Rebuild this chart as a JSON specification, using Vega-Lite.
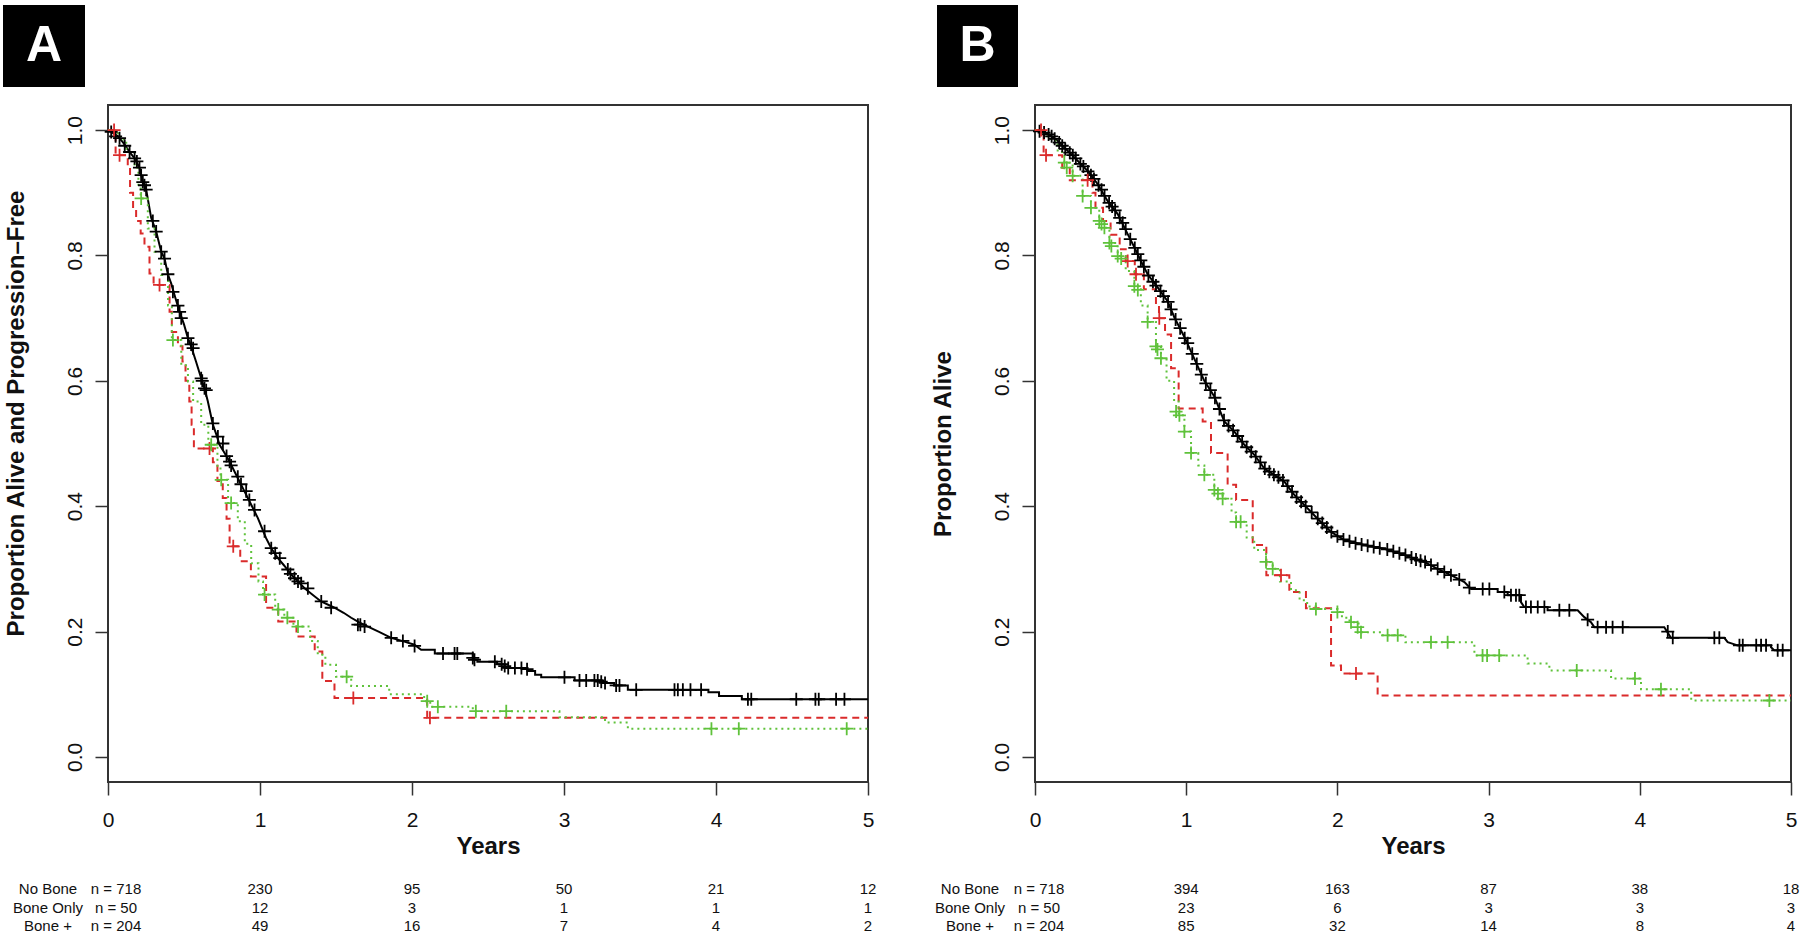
{
"$schema": "https://vega.github.io/schema/vega-lite/v6.json",
"padding": {"left": 2, "top": 4, "right": 0, "bottom": 0},
"bounds": "flush",
"spacing": 167,
"background": "white",
"config": {
  "font": "Liberation Sans",
  "view": {"stroke": "#333333", "strokeWidth": 2},
  "axis": {"grid": false, "domain": false, "tickColor": "#333333", "tickWidth": 1.5, "tickSize": 13, "labelColor": "#111111", "titleColor": "#111111"}
},
"datasets": {
"curves": [
{"panel":"A","group":"No Bone","t":0,"s":1},{"panel":"A","group":"No Bone","t":0.021,"s":0.997},{"panel":"A","group":"No Bone","t":0.065,"s":0.99},{"panel":"A","group":"No Bone","t":0.1,"s":0.98},{"panel":"A","group":"No Bone","t":0.142,"s":0.965},{"panel":"A","group":"No Bone","t":0.175,"s":0.955},{"panel":"A","group":"No Bone","t":0.207,"s":0.94},{"panel":"A","group":"No Bone","t":0.229,"s":0.918},{"panel":"A","group":"No Bone","t":0.251,"s":0.905},{"panel":"A","group":"No Bone","t":0.284,"s":0.86},{"panel":"A","group":"No Bone","t":0.317,"s":0.838},{"panel":"A","group":"No Bone","t":0.35,"s":0.806},{"panel":"A","group":"No Bone","t":0.372,"s":0.795},{"panel":"A","group":"No Bone","t":0.394,"s":0.77},{"panel":"A","group":"No Bone","t":0.416,"s":0.755},{"panel":"A","group":"No Bone","t":0.44,"s":0.735},{"panel":"A","group":"No Bone","t":0.471,"s":0.71},{"panel":"A","group":"No Bone","t":0.5,"s":0.69},{"panel":"A","group":"No Bone","t":0.526,"s":0.668},{"panel":"A","group":"No Bone","t":0.547,"s":0.655},{"panel":"A","group":"No Bone","t":0.58,"s":0.63},{"panel":"A","group":"No Bone","t":0.613,"s":0.604},{"panel":"A","group":"No Bone","t":0.635,"s":0.588},{"panel":"A","group":"No Bone","t":0.657,"s":0.567},{"panel":"A","group":"No Bone","t":0.69,"s":0.53},{"panel":"A","group":"No Bone","t":0.712,"s":0.515},{"panel":"A","group":"No Bone","t":0.734,"s":0.498},{"panel":"A","group":"No Bone","t":0.767,"s":0.485},{"panel":"A","group":"No Bone","t":0.8,"s":0.471},{"panel":"A","group":"No Bone","t":0.833,"s":0.455},{"panel":"A","group":"No Bone","t":0.866,"s":0.439},{"panel":"A","group":"No Bone","t":0.893,"s":0.426},{"panel":"A","group":"No Bone","t":0.92,"s":0.413},{"panel":"A","group":"No Bone","t":0.953,"s":0.397},{"panel":"A","group":"No Bone","t":0.986,"s":0.381},{"panel":"A","group":"No Bone","t":1.013,"s":0.365},{"panel":"A","group":"No Bone","t":1.04,"s":0.349},{"panel":"A","group":"No Bone","t":1.074,"s":0.333},{"panel":"A","group":"No Bone","t":1.118,"s":0.317},{"panel":"A","group":"No Bone","t":1.16,"s":0.305},{"panel":"A","group":"No Bone","t":1.205,"s":0.291},{"panel":"A","group":"No Bone","t":1.25,"s":0.28},{"panel":"A","group":"No Bone","t":1.293,"s":0.269},{"panel":"A","group":"No Bone","t":1.35,"s":0.258},{"panel":"A","group":"No Bone","t":1.402,"s":0.248},{"panel":"A","group":"No Bone","t":1.49,"s":0.238},{"panel":"A","group":"No Bone","t":1.55,"s":0.23},{"panel":"A","group":"No Bone","t":1.6,"s":0.222},{"panel":"A","group":"No Bone","t":1.65,"s":0.215},{"panel":"A","group":"No Bone","t":1.71,"s":0.208},{"panel":"A","group":"No Bone","t":1.78,"s":0.2},{"panel":"A","group":"No Bone","t":1.863,"s":0.19},{"panel":"A","group":"No Bone","t":1.95,"s":0.184},{"panel":"A","group":"No Bone","t":2.016,"s":0.179},{"panel":"A","group":"No Bone","t":2.06,"s":0.171},{"panel":"A","group":"No Bone","t":2.15,"s":0.171},{"panel":"A","group":"No Bone","t":2.15,"s":0.165},{"panel":"A","group":"No Bone","t":2.4,"s":0.165},{"panel":"A","group":"No Bone","t":2.4,"s":0.155},{"panel":"A","group":"No Bone","t":2.43,"s":0.155},{"panel":"A","group":"No Bone","t":2.43,"s":0.152},{"panel":"A","group":"No Bone","t":2.56,"s":0.152},{"panel":"A","group":"No Bone","t":2.56,"s":0.148},{"panel":"A","group":"No Bone","t":2.61,"s":0.148},{"panel":"A","group":"No Bone","t":2.61,"s":0.142},{"panel":"A","group":"No Bone","t":2.76,"s":0.142},{"panel":"A","group":"No Bone","t":2.76,"s":0.137},{"panel":"A","group":"No Bone","t":2.81,"s":0.137},{"panel":"A","group":"No Bone","t":2.81,"s":0.131},{"panel":"A","group":"No Bone","t":2.85,"s":0.131},{"panel":"A","group":"No Bone","t":2.85,"s":0.127},{"panel":"A","group":"No Bone","t":3.07,"s":0.127},{"panel":"A","group":"No Bone","t":3.07,"s":0.122},{"panel":"A","group":"No Bone","t":3.25,"s":0.122},{"panel":"A","group":"No Bone","t":3.25,"s":0.118},{"panel":"A","group":"No Bone","t":3.33,"s":0.118},{"panel":"A","group":"No Bone","t":3.33,"s":0.114},{"panel":"A","group":"No Bone","t":3.42,"s":0.114},{"panel":"A","group":"No Bone","t":3.42,"s":0.107},{"panel":"A","group":"No Bone","t":3.95,"s":0.107},{"panel":"A","group":"No Bone","t":3.95,"s":0.103},{"panel":"A","group":"No Bone","t":4.02,"s":0.103},{"panel":"A","group":"No Bone","t":4.02,"s":0.097},{"panel":"A","group":"No Bone","t":4.17,"s":0.097},{"panel":"A","group":"No Bone","t":4.17,"s":0.092},{"panel":"A","group":"No Bone","t":5,"s":0.092},
{"panel":"A","group":"Bone Only","t":0,"s":1},{"panel":"A","group":"Bone Only","t":0.05,"s":0.96},{"panel":"A","group":"Bone Only","t":0.13,"s":0.94},{"panel":"A","group":"Bone Only","t":0.145,"s":0.9},{"panel":"A","group":"Bone Only","t":0.165,"s":0.875},{"panel":"A","group":"Bone Only","t":0.185,"s":0.855},{"panel":"A","group":"Bone Only","t":0.215,"s":0.835},{"panel":"A","group":"Bone Only","t":0.24,"s":0.814},{"panel":"A","group":"Bone Only","t":0.273,"s":0.771},{"panel":"A","group":"Bone Only","t":0.3,"s":0.753},{"panel":"A","group":"Bone Only","t":0.405,"s":0.71},{"panel":"A","group":"Bone Only","t":0.42,"s":0.678},{"panel":"A","group":"Bone Only","t":0.46,"s":0.655},{"panel":"A","group":"Bone Only","t":0.49,"s":0.631},{"panel":"A","group":"Bone Only","t":0.51,"s":0.6},{"panel":"A","group":"Bone Only","t":0.535,"s":0.567},{"panel":"A","group":"Bone Only","t":0.55,"s":0.53},{"panel":"A","group":"Bone Only","t":0.565,"s":0.492},{"panel":"A","group":"Bone Only","t":0.69,"s":0.47},{"panel":"A","group":"Bone Only","t":0.72,"s":0.44},{"panel":"A","group":"Bone Only","t":0.755,"s":0.413},{"panel":"A","group":"Bone Only","t":0.78,"s":0.38},{"panel":"A","group":"Bone Only","t":0.8,"s":0.336},{"panel":"A","group":"Bone Only","t":0.87,"s":0.312},{"panel":"A","group":"Bone Only","t":0.94,"s":0.288},{"panel":"A","group":"Bone Only","t":1.04,"s":0.238},{"panel":"A","group":"Bone Only","t":1.12,"s":0.216},{"panel":"A","group":"Bone Only","t":1.24,"s":0.192},{"panel":"A","group":"Bone Only","t":1.36,"s":0.168},{"panel":"A","group":"Bone Only","t":1.41,"s":0.121},{"panel":"A","group":"Bone Only","t":1.49,"s":0.094},{"panel":"A","group":"Bone Only","t":2.1,"s":0.0624},{"panel":"A","group":"Bone Only","t":5,"s":0.0624},
{"panel":"A","group":"Bone +","t":0,"s":1},{"panel":"A","group":"Bone +","t":0.04,"s":0.995},{"panel":"A","group":"Bone +","t":0.08,"s":0.985},{"panel":"A","group":"Bone +","t":0.12,"s":0.965},{"panel":"A","group":"Bone +","t":0.175,"s":0.94},{"panel":"A","group":"Bone +","t":0.2,"s":0.91},{"panel":"A","group":"Bone +","t":0.215,"s":0.891},{"panel":"A","group":"Bone +","t":0.262,"s":0.843},{"panel":"A","group":"Bone +","t":0.306,"s":0.806},{"panel":"A","group":"Bone +","t":0.35,"s":0.769},{"panel":"A","group":"Bone +","t":0.395,"s":0.72},{"panel":"A","group":"Bone +","t":0.42,"s":0.665},{"panel":"A","group":"Bone +","t":0.482,"s":0.625},{"panel":"A","group":"Bone +","t":0.526,"s":0.599},{"panel":"A","group":"Bone +","t":0.56,"s":0.567},{"panel":"A","group":"Bone +","t":0.613,"s":0.53},{"panel":"A","group":"Bone +","t":0.66,"s":0.498},{"panel":"A","group":"Bone +","t":0.72,"s":0.46},{"panel":"A","group":"Bone +","t":0.74,"s":0.442},{"panel":"A","group":"Bone +","t":0.79,"s":0.405},{"panel":"A","group":"Bone +","t":0.854,"s":0.376},{"panel":"A","group":"Bone +","t":0.9,"s":0.34},{"panel":"A","group":"Bone +","t":0.942,"s":0.309},{"panel":"A","group":"Bone +","t":0.99,"s":0.28},{"panel":"A","group":"Bone +","t":1.02,"s":0.259},{"panel":"A","group":"Bone +","t":1.1,"s":0.235},{"panel":"A","group":"Bone +","t":1.16,"s":0.222},{"panel":"A","group":"Bone +","t":1.22,"s":0.208},{"panel":"A","group":"Bone +","t":1.33,"s":0.185},{"panel":"A","group":"Bone +","t":1.38,"s":0.163},{"panel":"A","group":"Bone +","t":1.43,"s":0.147},{"panel":"A","group":"Bone +","t":1.5,"s":0.128},{"panel":"A","group":"Bone +","t":1.6,"s":0.113},{"panel":"A","group":"Bone +","t":1.85,"s":0.1},{"panel":"A","group":"Bone +","t":2.08,"s":0.089},{"panel":"A","group":"Bone +","t":2.12,"s":0.08},{"panel":"A","group":"Bone +","t":2.4,"s":0.073},{"panel":"A","group":"Bone +","t":2.97,"s":0.0634},{"panel":"A","group":"Bone +","t":3.27,"s":0.055},{"panel":"A","group":"Bone +","t":3.42,"s":0.045},{"panel":"A","group":"Bone +","t":5,"s":0.045},
{"panel":"B","group":"No Bone","t":0,"s":1},{"panel":"B","group":"No Bone","t":0.03,"s":0.998},{"panel":"B","group":"No Bone","t":0.084,"s":0.994},{"panel":"B","group":"No Bone","t":0.15,"s":0.983},{"panel":"B","group":"No Bone","t":0.216,"s":0.967},{"panel":"B","group":"No Bone","t":0.282,"s":0.951},{"panel":"B","group":"No Bone","t":0.348,"s":0.935},{"panel":"B","group":"No Bone","t":0.414,"s":0.914},{"panel":"B","group":"No Bone","t":0.48,"s":0.887},{"panel":"B","group":"No Bone","t":0.547,"s":0.866},{"panel":"B","group":"No Bone","t":0.613,"s":0.834},{"panel":"B","group":"No Bone","t":0.657,"s":0.813},{"panel":"B","group":"No Bone","t":0.701,"s":0.791},{"panel":"B","group":"No Bone","t":0.745,"s":0.77},{"panel":"B","group":"No Bone","t":0.811,"s":0.749},{"panel":"B","group":"No Bone","t":0.877,"s":0.727},{"panel":"B","group":"No Bone","t":0.922,"s":0.701},{"panel":"B","group":"No Bone","t":0.988,"s":0.67},{"panel":"B","group":"No Bone","t":1.054,"s":0.635},{"panel":"B","group":"No Bone","t":1.12,"s":0.6},{"panel":"B","group":"No Bone","t":1.186,"s":0.575},{"panel":"B","group":"No Bone","t":1.252,"s":0.535},{"panel":"B","group":"No Bone","t":1.318,"s":0.519},{"panel":"B","group":"No Bone","t":1.385,"s":0.498},{"panel":"B","group":"No Bone","t":1.451,"s":0.482},{"panel":"B","group":"No Bone","t":1.517,"s":0.46},{"panel":"B","group":"No Bone","t":1.582,"s":0.45},{"panel":"B","group":"No Bone","t":1.649,"s":0.439},{"panel":"B","group":"No Bone","t":1.715,"s":0.418},{"panel":"B","group":"No Bone","t":1.781,"s":0.402},{"panel":"B","group":"No Bone","t":1.869,"s":0.38},{"panel":"B","group":"No Bone","t":1.958,"s":0.359},{"panel":"B","group":"No Bone","t":2.046,"s":0.346},{"panel":"B","group":"No Bone","t":2.178,"s":0.338},{"panel":"B","group":"No Bone","t":2.31,"s":0.332},{"panel":"B","group":"No Bone","t":2.443,"s":0.322},{"panel":"B","group":"No Bone","t":2.575,"s":0.311},{"panel":"B","group":"No Bone","t":2.663,"s":0.3},{"panel":"B","group":"No Bone","t":2.751,"s":0.29},{"panel":"B","group":"No Bone","t":2.84,"s":0.279},{"panel":"B","group":"No Bone","t":2.884,"s":0.268},{"panel":"B","group":"No Bone","t":3.06,"s":0.268},{"panel":"B","group":"No Bone","t":3.06,"s":0.263},{"panel":"B","group":"No Bone","t":3.126,"s":0.263},{"panel":"B","group":"No Bone","t":3.126,"s":0.258},{"panel":"B","group":"No Bone","t":3.214,"s":0.258},{"panel":"B","group":"No Bone","t":3.214,"s":0.247},{"panel":"B","group":"No Bone","t":3.236,"s":0.239},{"panel":"B","group":"No Bone","t":3.39,"s":0.239},{"panel":"B","group":"No Bone","t":3.39,"s":0.234},{"panel":"B","group":"No Bone","t":3.589,"s":0.234},{"panel":"B","group":"No Bone","t":3.633,"s":0.223},{"panel":"B","group":"No Bone","t":3.677,"s":0.215},{"panel":"B","group":"No Bone","t":3.699,"s":0.207},{"panel":"B","group":"No Bone","t":4.162,"s":0.207},{"panel":"B","group":"No Bone","t":4.206,"s":0.19},{"panel":"B","group":"No Bone","t":4.559,"s":0.19},{"panel":"B","group":"No Bone","t":4.581,"s":0.183},{"panel":"B","group":"No Bone","t":4.647,"s":0.178},{"panel":"B","group":"No Bone","t":4.868,"s":0.178},{"panel":"B","group":"No Bone","t":4.868,"s":0.175},{"panel":"B","group":"No Bone","t":4.89,"s":0.17},{"panel":"B","group":"No Bone","t":5,"s":0.17},
{"panel":"B","group":"Bone Only","t":0,"s":1},{"panel":"B","group":"Bone Only","t":0.057,"s":0.96},{"panel":"B","group":"Bone Only","t":0.18,"s":0.94},{"panel":"B","group":"Bone Only","t":0.23,"s":0.92},{"panel":"B","group":"Bone Only","t":0.38,"s":0.9},{"panel":"B","group":"Bone Only","t":0.4,"s":0.876},{"panel":"B","group":"Bone Only","t":0.45,"s":0.855},{"panel":"B","group":"Bone Only","t":0.5,"s":0.833},{"panel":"B","group":"Bone Only","t":0.56,"s":0.81},{"panel":"B","group":"Bone Only","t":0.6,"s":0.791},{"panel":"B","group":"Bone Only","t":0.66,"s":0.77},{"panel":"B","group":"Bone Only","t":0.72,"s":0.746},{"panel":"B","group":"Bone Only","t":0.8,"s":0.722},{"panel":"B","group":"Bone Only","t":0.82,"s":0.7},{"panel":"B","group":"Bone Only","t":0.86,"s":0.674},{"panel":"B","group":"Bone Only","t":0.9,"s":0.62},{"panel":"B","group":"Bone Only","t":0.95,"s":0.556},{"panel":"B","group":"Bone Only","t":1.109,"s":0.535},{"panel":"B","group":"Bone Only","t":1.164,"s":0.485},{"panel":"B","group":"Bone Only","t":1.274,"s":0.434},{"panel":"B","group":"Bone Only","t":1.33,"s":0.41},{"panel":"B","group":"Bone Only","t":1.44,"s":0.338},{"panel":"B","group":"Bone Only","t":1.53,"s":0.29},{"panel":"B","group":"Bone Only","t":1.682,"s":0.263},{"panel":"B","group":"Bone Only","t":1.792,"s":0.237},{"panel":"B","group":"Bone Only","t":1.958,"s":0.146},{"panel":"B","group":"Bone Only","t":2.024,"s":0.133},{"panel":"B","group":"Bone Only","t":2.266,"s":0.098},{"panel":"B","group":"Bone Only","t":5,"s":0.098},
{"panel":"B","group":"Bone +","t":0,"s":1},{"panel":"B","group":"Bone +","t":0.06,"s":0.99},{"panel":"B","group":"Bone +","t":0.106,"s":0.983},{"panel":"B","group":"Bone +","t":0.15,"s":0.965},{"panel":"B","group":"Bone +","t":0.194,"s":0.948},{"panel":"B","group":"Bone +","t":0.249,"s":0.927},{"panel":"B","group":"Bone +","t":0.315,"s":0.895},{"panel":"B","group":"Bone +","t":0.37,"s":0.876},{"panel":"B","group":"Bone +","t":0.425,"s":0.855},{"panel":"B","group":"Bone +","t":0.459,"s":0.844},{"panel":"B","group":"Bone +","t":0.492,"s":0.82},{"panel":"B","group":"Bone +","t":0.547,"s":0.799},{"panel":"B","group":"Bone +","t":0.6,"s":0.775},{"panel":"B","group":"Bone +","t":0.657,"s":0.751},{"panel":"B","group":"Bone +","t":0.7,"s":0.72},{"panel":"B","group":"Bone +","t":0.745,"s":0.694},{"panel":"B","group":"Bone +","t":0.8,"s":0.655},{"panel":"B","group":"Bone +","t":0.833,"s":0.636},{"panel":"B","group":"Bone +","t":0.87,"s":0.6},{"panel":"B","group":"Bone +","t":0.92,"s":0.567},{"panel":"B","group":"Bone +","t":0.95,"s":0.545},{"panel":"B","group":"Bone +","t":0.988,"s":0.519},{"panel":"B","group":"Bone +","t":1.032,"s":0.485},{"panel":"B","group":"Bone +","t":1.08,"s":0.465},{"panel":"B","group":"Bone +","t":1.12,"s":0.45},{"panel":"B","group":"Bone +","t":1.186,"s":0.426},{"panel":"B","group":"Bone +","t":1.241,"s":0.412},{"panel":"B","group":"Bone +","t":1.3,"s":0.39},{"panel":"B","group":"Bone +","t":1.33,"s":0.375},{"panel":"B","group":"Bone +","t":1.4,"s":0.35},{"panel":"B","group":"Bone +","t":1.45,"s":0.33},{"panel":"B","group":"Bone +","t":1.528,"s":0.311},{"panel":"B","group":"Bone +","t":1.572,"s":0.3},{"panel":"B","group":"Bone +","t":1.62,"s":0.28},{"panel":"B","group":"Bone +","t":1.693,"s":0.266},{"panel":"B","group":"Bone +","t":1.75,"s":0.25},{"panel":"B","group":"Bone +","t":1.8,"s":0.24},{"panel":"B","group":"Bone +","t":1.858,"s":0.236},{"panel":"B","group":"Bone +","t":2.0,"s":0.231},{"panel":"B","group":"Bone +","t":2.03,"s":0.222},{"panel":"B","group":"Bone +","t":2.08,"s":0.215},{"panel":"B","group":"Bone +","t":2.14,"s":0.207},{"panel":"B","group":"Bone +","t":2.156,"s":0.199},{"panel":"B","group":"Bone +","t":2.3,"s":0.194},{"panel":"B","group":"Bone +","t":2.45,"s":0.183},{"panel":"B","group":"Bone +","t":2.906,"s":0.162},{"panel":"B","group":"Bone +","t":3.258,"s":0.149},{"panel":"B","group":"Bone +","t":3.402,"s":0.138},{"panel":"B","group":"Bone +","t":3.81,"s":0.125},{"panel":"B","group":"Bone +","t":4.008,"s":0.108},{"panel":"B","group":"Bone +","t":4.34,"s":0.09},{"panel":"B","group":"Bone +","t":5,"s":0.09}
],
"censor": [
{"panel":"A","group":"No Bone","t":0.021,"s":0.997},{"panel":"A","group":"No Bone","t":0.05,"s":0.99},{"panel":"A","group":"No Bone","t":0.076,"s":0.987},{"panel":"A","group":"No Bone","t":0.11,"s":0.975},{"panel":"A","group":"No Bone","t":0.142,"s":0.965},{"panel":"A","group":"No Bone","t":0.175,"s":0.955},{"panel":"A","group":"No Bone","t":0.19,"s":0.95},{"panel":"A","group":"No Bone","t":0.207,"s":0.94},{"panel":"A","group":"No Bone","t":0.218,"s":0.928},{"panel":"A","group":"No Bone","t":0.229,"s":0.917},{"panel":"A","group":"No Bone","t":0.24,"s":0.912},{"panel":"A","group":"No Bone","t":0.251,"s":0.905},{"panel":"A","group":"No Bone","t":0.295,"s":0.855},{"panel":"A","group":"No Bone","t":0.317,"s":0.838},{"panel":"A","group":"No Bone","t":0.35,"s":0.806},{"panel":"A","group":"No Bone","t":0.372,"s":0.795},{"panel":"A","group":"No Bone","t":0.394,"s":0.77},{"panel":"A","group":"No Bone","t":0.427,"s":0.742},{"panel":"A","group":"No Bone","t":0.46,"s":0.72},{"panel":"A","group":"No Bone","t":0.471,"s":0.71},{"panel":"A","group":"No Bone","t":0.482,"s":0.7},{"panel":"A","group":"No Bone","t":0.526,"s":0.668},{"panel":"A","group":"No Bone","t":0.547,"s":0.658},{"panel":"A","group":"No Bone","t":0.56,"s":0.652},{"panel":"A","group":"No Bone","t":0.613,"s":0.604},{"panel":"A","group":"No Bone","t":0.62,"s":0.6},{"panel":"A","group":"No Bone","t":0.635,"s":0.588},{"panel":"A","group":"No Bone","t":0.646,"s":0.585},{"panel":"A","group":"No Bone","t":0.69,"s":0.532},{"panel":"A","group":"No Bone","t":0.723,"s":0.511},{"panel":"A","group":"No Bone","t":0.756,"s":0.5},{"panel":"A","group":"No Bone","t":0.78,"s":0.48},{"panel":"A","group":"No Bone","t":0.8,"s":0.471},{"panel":"A","group":"No Bone","t":0.81,"s":0.465},{"panel":"A","group":"No Bone","t":0.854,"s":0.447},{"panel":"A","group":"No Bone","t":0.875,"s":0.435},{"panel":"A","group":"No Bone","t":0.909,"s":0.424},{"panel":"A","group":"No Bone","t":0.93,"s":0.41},{"panel":"A","group":"No Bone","t":0.964,"s":0.394},{"panel":"A","group":"No Bone","t":1.03,"s":0.36},{"panel":"A","group":"No Bone","t":1.074,"s":0.333},{"panel":"A","group":"No Bone","t":1.1,"s":0.325},{"panel":"A","group":"No Bone","t":1.13,"s":0.317},{"panel":"A","group":"No Bone","t":1.183,"s":0.299},{"panel":"A","group":"No Bone","t":1.2,"s":0.292},{"panel":"A","group":"No Bone","t":1.227,"s":0.285},{"panel":"A","group":"No Bone","t":1.25,"s":0.28},{"panel":"A","group":"No Bone","t":1.271,"s":0.277},{"panel":"A","group":"No Bone","t":1.315,"s":0.269},{"panel":"A","group":"No Bone","t":1.403,"s":0.248},{"panel":"A","group":"No Bone","t":1.468,"s":0.238},{"panel":"A","group":"No Bone","t":1.644,"s":0.211},{"panel":"A","group":"No Bone","t":1.66,"s":0.211},{"panel":"A","group":"No Bone","t":1.688,"s":0.208},{"panel":"A","group":"No Bone","t":1.863,"s":0.19},{"panel":"A","group":"No Bone","t":1.94,"s":0.185},{"panel":"A","group":"No Bone","t":2.017,"s":0.177},{"panel":"A","group":"No Bone","t":2.204,"s":0.165},{"panel":"A","group":"No Bone","t":2.28,"s":0.165},{"panel":"A","group":"No Bone","t":2.298,"s":0.165},{"panel":"A","group":"No Bone","t":2.4,"s":0.158},{"panel":"A","group":"No Bone","t":2.411,"s":0.155},{"panel":"A","group":"No Bone","t":2.545,"s":0.152},{"panel":"A","group":"No Bone","t":2.59,"s":0.148},{"panel":"A","group":"No Bone","t":2.61,"s":0.145},{"panel":"A","group":"No Bone","t":2.633,"s":0.142},{"panel":"A","group":"No Bone","t":2.677,"s":0.142},{"panel":"A","group":"No Bone","t":2.72,"s":0.142},{"panel":"A","group":"No Bone","t":2.757,"s":0.14},{"panel":"A","group":"No Bone","t":3.003,"s":0.127},{"panel":"A","group":"No Bone","t":3.102,"s":0.122},{"panel":"A","group":"No Bone","t":3.146,"s":0.122},{"panel":"A","group":"No Bone","t":3.2,"s":0.122},{"panel":"A","group":"No Bone","t":3.222,"s":0.122},{"panel":"A","group":"No Bone","t":3.245,"s":0.12},{"panel":"A","group":"No Bone","t":3.27,"s":0.118},{"panel":"A","group":"No Bone","t":3.343,"s":0.114},{"panel":"A","group":"No Bone","t":3.365,"s":0.114},{"panel":"A","group":"No Bone","t":3.475,"s":0.107},{"panel":"A","group":"No Bone","t":3.727,"s":0.107},{"panel":"A","group":"No Bone","t":3.749,"s":0.107},{"panel":"A","group":"No Bone","t":3.782,"s":0.107},{"panel":"A","group":"No Bone","t":3.832,"s":0.107},{"panel":"A","group":"No Bone","t":3.902,"s":0.107},{"panel":"A","group":"No Bone","t":4.21,"s":0.092},{"panel":"A","group":"No Bone","t":4.232,"s":0.092},{"panel":"A","group":"No Bone","t":4.528,"s":0.092},{"panel":"A","group":"No Bone","t":4.654,"s":0.092},{"panel":"A","group":"No Bone","t":4.676,"s":0.092},{"panel":"A","group":"No Bone","t":4.79,"s":0.092},{"panel":"A","group":"No Bone","t":4.845,"s":0.092},
{"panel":"A","group":"Bone Only","t":0.04,"s":1.0},{"panel":"A","group":"Bone Only","t":0.076,"s":0.96},{"panel":"A","group":"Bone Only","t":0.339,"s":0.753},{"panel":"A","group":"Bone Only","t":0.668,"s":0.492},{"panel":"A","group":"Bone Only","t":0.824,"s":0.336},{"panel":"A","group":"Bone Only","t":1.614,"s":0.094},{"panel":"A","group":"Bone Only","t":2.118,"s":0.0624},
{"panel":"A","group":"Bone +","t":0.218,"s":0.891},{"panel":"A","group":"Bone +","t":0.427,"s":0.665},{"panel":"A","group":"Bone +","t":0.679,"s":0.498},{"panel":"A","group":"Bone +","t":0.745,"s":0.442},{"panel":"A","group":"Bone +","t":0.81,"s":0.405},{"panel":"A","group":"Bone +","t":1.03,"s":0.259},{"panel":"A","group":"Bone +","t":1.12,"s":0.235},{"panel":"A","group":"Bone +","t":1.18,"s":0.222},{"panel":"A","group":"Bone +","t":1.25,"s":0.208},{"panel":"A","group":"Bone +","t":1.57,"s":0.128},{"panel":"A","group":"Bone +","t":2.1,"s":0.089},{"panel":"A","group":"Bone +","t":2.17,"s":0.08},{"panel":"A","group":"Bone +","t":2.42,"s":0.073},{"panel":"A","group":"Bone +","t":2.62,"s":0.073},{"panel":"A","group":"Bone +","t":3.97,"s":0.045},{"panel":"A","group":"Bone +","t":4.15,"s":0.045},{"panel":"A","group":"Bone +","t":4.86,"s":0.045},
{"panel":"B","group":"No Bone","t":0.03,"s":0.998},{"panel":"B","group":"No Bone","t":0.06,"s":0.996},{"panel":"B","group":"No Bone","t":0.09,"s":0.993},{"panel":"B","group":"No Bone","t":0.11,"s":0.99},{"panel":"B","group":"No Bone","t":0.13,"s":0.986},{"panel":"B","group":"No Bone","t":0.16,"s":0.98},{"panel":"B","group":"No Bone","t":0.18,"s":0.975},{"panel":"B","group":"No Bone","t":0.2,"s":0.97},{"panel":"B","group":"No Bone","t":0.23,"s":0.964},{"panel":"B","group":"No Bone","t":0.25,"s":0.96},{"panel":"B","group":"No Bone","t":0.27,"s":0.955},{"panel":"B","group":"No Bone","t":0.3,"s":0.946},{"panel":"B","group":"No Bone","t":0.32,"s":0.942},{"panel":"B","group":"No Bone","t":0.35,"s":0.934},{"panel":"B","group":"No Bone","t":0.37,"s":0.928},{"panel":"B","group":"No Bone","t":0.39,"s":0.922},{"panel":"B","group":"No Bone","t":0.42,"s":0.912},{"panel":"B","group":"No Bone","t":0.44,"s":0.905},{"panel":"B","group":"No Bone","t":0.46,"s":0.895},{"panel":"B","group":"No Bone","t":0.49,"s":0.884},{"panel":"B","group":"No Bone","t":0.51,"s":0.878},{"panel":"B","group":"No Bone","t":0.53,"s":0.872},{"panel":"B","group":"No Bone","t":0.56,"s":0.86},{"panel":"B","group":"No Bone","t":0.58,"s":0.852},{"panel":"B","group":"No Bone","t":0.6,"s":0.842},{"panel":"B","group":"No Bone","t":0.63,"s":0.826},{"panel":"B","group":"No Bone","t":0.66,"s":0.812},{"panel":"B","group":"No Bone","t":0.68,"s":0.802},{"panel":"B","group":"No Bone","t":0.7,"s":0.792},{"panel":"B","group":"No Bone","t":0.72,"s":0.782},{"panel":"B","group":"No Bone","t":0.75,"s":0.768},{"panel":"B","group":"No Bone","t":0.78,"s":0.758},{"panel":"B","group":"No Bone","t":0.8,"s":0.752},{"panel":"B","group":"No Bone","t":0.83,"s":0.743},{"panel":"B","group":"No Bone","t":0.85,"s":0.735},{"panel":"B","group":"No Bone","t":0.88,"s":0.726},{"panel":"B","group":"No Bone","t":0.9,"s":0.714},{"panel":"B","group":"No Bone","t":0.93,"s":0.698},{"panel":"B","group":"No Bone","t":0.96,"s":0.684},{"panel":"B","group":"No Bone","t":0.99,"s":0.668},{"panel":"B","group":"No Bone","t":1.01,"s":0.66},{"panel":"B","group":"No Bone","t":1.04,"s":0.643},{"panel":"B","group":"No Bone","t":1.07,"s":0.627},{"panel":"B","group":"No Bone","t":1.1,"s":0.61},{"panel":"B","group":"No Bone","t":1.13,"s":0.596},{"panel":"B","group":"No Bone","t":1.16,"s":0.585},{"panel":"B","group":"No Bone","t":1.19,"s":0.573},{"panel":"B","group":"No Bone","t":1.22,"s":0.555},{"panel":"B","group":"No Bone","t":1.25,"s":0.537},{"panel":"B","group":"No Bone","t":1.28,"s":0.528},{"panel":"B","group":"No Bone","t":1.31,"s":0.521},{"panel":"B","group":"No Bone","t":1.34,"s":0.512},{"panel":"B","group":"No Bone","t":1.37,"s":0.503},{"panel":"B","group":"No Bone","t":1.4,"s":0.494},{"panel":"B","group":"No Bone","t":1.43,"s":0.487},{"panel":"B","group":"No Bone","t":1.46,"s":0.479},{"panel":"B","group":"No Bone","t":1.49,"s":0.47},{"panel":"B","group":"No Bone","t":1.52,"s":0.46},{"panel":"B","group":"No Bone","t":1.55,"s":0.455},{"panel":"B","group":"No Bone","t":1.58,"s":0.45},{"panel":"B","group":"No Bone","t":1.61,"s":0.446},{"panel":"B","group":"No Bone","t":1.64,"s":0.441},{"panel":"B","group":"No Bone","t":1.67,"s":0.432},{"panel":"B","group":"No Bone","t":1.7,"s":0.423},{"panel":"B","group":"No Bone","t":1.73,"s":0.414},{"panel":"B","group":"No Bone","t":1.76,"s":0.407},{"panel":"B","group":"No Bone","t":1.79,"s":0.4},{"panel":"B","group":"No Bone","t":1.83,"s":0.39},{"panel":"B","group":"No Bone","t":1.87,"s":0.38},{"panel":"B","group":"No Bone","t":1.9,"s":0.373},{"panel":"B","group":"No Bone","t":1.93,"s":0.366},{"panel":"B","group":"No Bone","t":1.96,"s":0.359},{"panel":"B","group":"No Bone","t":2.0,"s":0.352},{"panel":"B","group":"No Bone","t":2.04,"s":0.347},{"panel":"B","group":"No Bone","t":2.08,"s":0.344},{"panel":"B","group":"No Bone","t":2.12,"s":0.341},{"panel":"B","group":"No Bone","t":2.16,"s":0.339},{"panel":"B","group":"No Bone","t":2.2,"s":0.337},{"panel":"B","group":"No Bone","t":2.24,"s":0.335},{"panel":"B","group":"No Bone","t":2.28,"s":0.333},{"panel":"B","group":"No Bone","t":2.33,"s":0.331},{"panel":"B","group":"No Bone","t":2.37,"s":0.328},{"panel":"B","group":"No Bone","t":2.41,"s":0.325},{"panel":"B","group":"No Bone","t":2.45,"s":0.322},{"panel":"B","group":"No Bone","t":2.49,"s":0.318},{"panel":"B","group":"No Bone","t":2.52,"s":0.315},{"panel":"B","group":"No Bone","t":2.55,"s":0.313},{"panel":"B","group":"No Bone","t":2.58,"s":0.311},{"panel":"B","group":"No Bone","t":2.619,"s":0.306},{"panel":"B","group":"No Bone","t":2.663,"s":0.3},{"panel":"B","group":"No Bone","t":2.707,"s":0.295},{"panel":"B","group":"No Bone","t":2.751,"s":0.29},{"panel":"B","group":"No Bone","t":2.806,"s":0.283},{"panel":"B","group":"No Bone","t":2.873,"s":0.27},{"panel":"B","group":"No Bone","t":2.961,"s":0.268},{"panel":"B","group":"No Bone","t":3.005,"s":0.268},{"panel":"B","group":"No Bone","t":3.104,"s":0.263},{"panel":"B","group":"No Bone","t":3.148,"s":0.258},{"panel":"B","group":"No Bone","t":3.181,"s":0.258},{"panel":"B","group":"No Bone","t":3.203,"s":0.258},{"panel":"B","group":"No Bone","t":3.247,"s":0.239},{"panel":"B","group":"No Bone","t":3.28,"s":0.239},{"panel":"B","group":"No Bone","t":3.325,"s":0.239},{"panel":"B","group":"No Bone","t":3.369,"s":0.239},{"panel":"B","group":"No Bone","t":3.468,"s":0.234},{"panel":"B","group":"No Bone","t":3.534,"s":0.234},{"panel":"B","group":"No Bone","t":3.655,"s":0.219},{"panel":"B","group":"No Bone","t":3.721,"s":0.207},{"panel":"B","group":"No Bone","t":3.777,"s":0.207},{"panel":"B","group":"No Bone","t":3.82,"s":0.207},{"panel":"B","group":"No Bone","t":3.887,"s":0.207},{"panel":"B","group":"No Bone","t":4.185,"s":0.2},{"panel":"B","group":"No Bone","t":4.218,"s":0.19},{"panel":"B","group":"No Bone","t":4.493,"s":0.19},{"panel":"B","group":"No Bone","t":4.526,"s":0.19},{"panel":"B","group":"No Bone","t":4.659,"s":0.178},{"panel":"B","group":"No Bone","t":4.681,"s":0.178},{"panel":"B","group":"No Bone","t":4.77,"s":0.178},{"panel":"B","group":"No Bone","t":4.802,"s":0.178},{"panel":"B","group":"No Bone","t":4.835,"s":0.178},{"panel":"B","group":"No Bone","t":4.912,"s":0.17},{"panel":"B","group":"No Bone","t":4.945,"s":0.17},
{"panel":"B","group":"Bone Only","t":0.04,"s":1.0},{"panel":"B","group":"Bone Only","t":0.073,"s":0.96},{"panel":"B","group":"Bone Only","t":0.348,"s":0.92},{"panel":"B","group":"Bone Only","t":0.613,"s":0.791},{"panel":"B","group":"Bone Only","t":0.668,"s":0.77},{"panel":"B","group":"Bone Only","t":0.822,"s":0.7},{"panel":"B","group":"Bone Only","t":1.627,"s":0.29},{"panel":"B","group":"Bone Only","t":2.123,"s":0.133},
{"panel":"B","group":"Bone +","t":0.194,"s":0.948},{"panel":"B","group":"Bone +","t":0.21,"s":0.94},{"panel":"B","group":"Bone +","t":0.249,"s":0.927},{"panel":"B","group":"Bone +","t":0.315,"s":0.895},{"panel":"B","group":"Bone +","t":0.37,"s":0.876},{"panel":"B","group":"Bone +","t":0.425,"s":0.855},{"panel":"B","group":"Bone +","t":0.44,"s":0.85},{"panel":"B","group":"Bone +","t":0.459,"s":0.844},{"panel":"B","group":"Bone +","t":0.492,"s":0.82},{"panel":"B","group":"Bone +","t":0.505,"s":0.815},{"panel":"B","group":"Bone +","t":0.547,"s":0.799},{"panel":"B","group":"Bone +","t":0.57,"s":0.795},{"panel":"B","group":"Bone +","t":0.657,"s":0.751},{"panel":"B","group":"Bone +","t":0.68,"s":0.745},{"panel":"B","group":"Bone +","t":0.745,"s":0.694},{"panel":"B","group":"Bone +","t":0.8,"s":0.655},{"panel":"B","group":"Bone +","t":0.81,"s":0.65},{"panel":"B","group":"Bone +","t":0.833,"s":0.636},{"panel":"B","group":"Bone +","t":0.933,"s":0.551},{"panel":"B","group":"Bone +","t":0.955,"s":0.545},{"panel":"B","group":"Bone +","t":0.988,"s":0.519},{"panel":"B","group":"Bone +","t":1.032,"s":0.485},{"panel":"B","group":"Bone +","t":1.12,"s":0.45},{"panel":"B","group":"Bone +","t":1.186,"s":0.426},{"panel":"B","group":"Bone +","t":1.21,"s":0.42},{"panel":"B","group":"Bone +","t":1.241,"s":0.412},{"panel":"B","group":"Bone +","t":1.33,"s":0.375},{"panel":"B","group":"Bone +","t":1.36,"s":0.375},{"panel":"B","group":"Bone +","t":1.528,"s":0.311},{"panel":"B","group":"Bone +","t":1.572,"s":0.3},{"panel":"B","group":"Bone +","t":1.858,"s":0.236},{"panel":"B","group":"Bone +","t":2.0,"s":0.231},{"panel":"B","group":"Bone +","t":2.09,"s":0.215},{"panel":"B","group":"Bone +","t":2.134,"s":0.207},{"panel":"B","group":"Bone +","t":2.156,"s":0.199},{"panel":"B","group":"Bone +","t":2.332,"s":0.194},{"panel":"B","group":"Bone +","t":2.399,"s":0.194},{"panel":"B","group":"Bone +","t":2.619,"s":0.183},{"panel":"B","group":"Bone +","t":2.729,"s":0.183},{"panel":"B","group":"Bone +","t":2.96,"s":0.162},{"panel":"B","group":"Bone +","t":2.99,"s":0.162},{"panel":"B","group":"Bone +","t":3.07,"s":0.162},{"panel":"B","group":"Bone +","t":3.583,"s":0.138},{"panel":"B","group":"Bone +","t":3.968,"s":0.125},{"panel":"B","group":"Bone +","t":4.14,"s":0.108},{"panel":"B","group":"Bone +","t":4.857,"s":0.09}
],
"risk": [
{"panel":"A","group":"No Bone","t":0,"n":"n = 718"},{"panel":"A","group":"No Bone","t":1,"n":"230"},{"panel":"A","group":"No Bone","t":2,"n":"95"},{"panel":"A","group":"No Bone","t":3,"n":"50"},{"panel":"A","group":"No Bone","t":4,"n":"21"},{"panel":"A","group":"No Bone","t":5,"n":"12"},
{"panel":"A","group":"Bone Only","t":0,"n":"n = 50"},{"panel":"A","group":"Bone Only","t":1,"n":"12"},{"panel":"A","group":"Bone Only","t":2,"n":"3"},{"panel":"A","group":"Bone Only","t":3,"n":"1"},{"panel":"A","group":"Bone Only","t":4,"n":"1"},{"panel":"A","group":"Bone Only","t":5,"n":"1"},
{"panel":"A","group":"Bone +","t":0,"n":"n = 204"},{"panel":"A","group":"Bone +","t":1,"n":"49"},{"panel":"A","group":"Bone +","t":2,"n":"16"},{"panel":"A","group":"Bone +","t":3,"n":"7"},{"panel":"A","group":"Bone +","t":4,"n":"4"},{"panel":"A","group":"Bone +","t":5,"n":"2"},
{"panel":"B","group":"No Bone","t":0,"n":"n = 718"},{"panel":"B","group":"No Bone","t":1,"n":"394"},{"panel":"B","group":"No Bone","t":2,"n":"163"},{"panel":"B","group":"No Bone","t":3,"n":"87"},{"panel":"B","group":"No Bone","t":4,"n":"38"},{"panel":"B","group":"No Bone","t":5,"n":"18"},
{"panel":"B","group":"Bone Only","t":0,"n":"n = 50"},{"panel":"B","group":"Bone Only","t":1,"n":"23"},{"panel":"B","group":"Bone Only","t":2,"n":"6"},{"panel":"B","group":"Bone Only","t":3,"n":"3"},{"panel":"B","group":"Bone Only","t":4,"n":"3"},{"panel":"B","group":"Bone Only","t":5,"n":"3"},
{"panel":"B","group":"Bone +","t":0,"n":"n = 204"},{"panel":"B","group":"Bone +","t":1,"n":"85"},{"panel":"B","group":"Bone +","t":2,"n":"32"},{"panel":"B","group":"Bone +","t":3,"n":"14"},{"panel":"B","group":"Bone +","t":4,"n":"8"},{"panel":"B","group":"Bone +","t":5,"n":"4"}
],
"panels": [{"panel":"A"},{"panel":"B"}]
},
"hconcat": [
{
 "width": 760, "height": 677,
 "resolve": {"scale": {"x": "independent", "y": "independent"}},
 "layer": [
  {
   "encoding": {
    "x": {"field":"t","type":"quantitative","scale":{"domain":[0,5],"nice":false,"zero":false},"axis":{"values":[0,1,2,3,4,5],"title":"Years","labelFontSize":21,"labelPadding":14,"labelFlush":false,"labelOverlap":false,"titleFontSize":24,"titleFontWeight":"bold","titlePadding":4}},
    "y": {"field":"s","type":"quantitative","scale":{"domain":[-0.04,1.04],"nice":false,"zero":false},"axis":{"values":[0,0.2,0.4,0.6,0.8,1],"format":".1f","title":"Proportion Alive and Progression–Free","labelAngle":-90,"labelAlign":"center","labelBaseline":"bottom","labelFontSize":21,"labelPadding":10,"labelOverlap":false,"titleFontSize":24,"titleFontWeight":"bold","titlePadding":36,"titleY":308}}
   },
   "layer": [
    {"data":{"name":"curves"},"transform":[{"filter":"datum.panel==='A' && datum.group==='No Bone'"}],"mark":{"type":"line","interpolate":"linear","color":"#000000","strokeWidth":2},"encoding":{"order":{"value":null}}},
    {"data":{"name":"curves"},"transform":[{"filter":"datum.panel==='A' && datum.group!=='No Bone'"}],"mark":{"type":"line","interpolate":"step-after","strokeWidth":2},"encoding":{"color":{"field":"group","type":"nominal","scale":{"domain":["No Bone","Bone Only","Bone +"],"range":["#000000","#DA2B2B","#5FC23B"]},"legend":null},"strokeDash":{"field":"group","type":"nominal","scale":{"domain":["No Bone","Bone Only","Bone +"],"range":[[1,0],[7,5],[2,4]]},"legend":null},"order":{"value":null}}},
    {"data":{"name":"censor"},"transform":[{"filter":"datum.panel==='A'"}],"mark":{"type":"point","shape":"M-1,0L1,0M0,-1L0,1","size":169,"filled":false,"strokeWidth":1.8,"opacity":1},"encoding":{"color":{"field":"group","type":"nominal","scale":{"domain":["No Bone","Bone Only","Bone +"],"range":["#000000","#DA2B2B","#5FC23B"]},"legend":null}}}
   ]
  },
  {
   "data": {"name":"risk"},
   "transform": [{"filter":"datum.panel==='A'"}],
   "encoding": {
    "x": {"field":"t","type":"quantitative","scale":{"domain":[0,5],"nice":false,"zero":false},"axis":null},
    "y": {"field":"group","type":"nominal","scale":{"type":"point","domain":["No Bone","Bone Only","Bone +"],"range":[784,821],"padding":0},"axis":null}
   },
   "layer": [
    {"transform":[{"filter":"datum.t>0"}],"mark":{"type":"text","fontSize":15,"align":"center","baseline":"middle","color":"#111111"},"encoding":{"text":{"field":"n","type":"nominal"}}},
    {"transform":[{"filter":"datum.t===0"}],"mark":{"type":"text","fontSize":15,"align":"center","baseline":"middle","dx":8,"color":"#111111"},"encoding":{"text":{"field":"n","type":"nominal"}}},
    {"transform":[{"filter":"datum.t===0"}],"mark":{"type":"text","fontSize":15,"align":"center","baseline":"middle","dx":-60,"color":"#111111"},"encoding":{"text":{"field":"group","type":"nominal"}}}
   ]
  },
  {
   "data": {"name":"panels"},
   "transform": [{"filter":"datum.panel==='A'"}],
   "encoding": {
    "x": {"field":"panel","type":"nominal","scale":{"type":"band","domain":["A"],"range":[-105,-23],"paddingInner":0,"paddingOuter":0},"axis":null},
    "y": {"field":"panel","type":"nominal","scale":{"type":"band","domain":["A"],"range":[-100,-18],"paddingInner":0,"paddingOuter":0},"axis":null}
   },
   "layer": [
    {"mark":{"type":"rect","color":"#000000"}},
    {"mark":{"type":"text","color":"#ffffff","fontSize":50,"fontWeight":"bold","align":"center","baseline":"middle"},"encoding":{"text":{"field":"panel","type":"nominal"}}}
   ]
  }
 ]
},
{
 "width": 756, "height": 677,
 "resolve": {"scale": {"x": "independent", "y": "independent"}},
 "layer": [
  {
   "encoding": {
    "x": {"field":"t","type":"quantitative","scale":{"domain":[0,5],"nice":false,"zero":false},"axis":{"values":[0,1,2,3,4,5],"title":"Years","labelFontSize":21,"labelPadding":14,"labelFlush":false,"labelOverlap":false,"titleFontSize":24,"titleFontWeight":"bold","titlePadding":4}},
    "y": {"field":"s","type":"quantitative","scale":{"domain":[-0.04,1.04],"nice":false,"zero":false},"axis":{"values":[0,0.2,0.4,0.6,0.8,1],"format":".1f","title":"Proportion Alive","labelAngle":-90,"labelAlign":"center","labelBaseline":"bottom","labelFontSize":21,"labelPadding":10,"labelOverlap":false,"titleFontSize":24,"titleFontWeight":"bold","titlePadding":36}}
   },
   "layer": [
    {"data":{"name":"curves"},"transform":[{"filter":"datum.panel==='B' && datum.group==='No Bone'"}],"mark":{"type":"line","interpolate":"linear","color":"#000000","strokeWidth":2},"encoding":{"order":{"value":null}}},
    {"data":{"name":"curves"},"transform":[{"filter":"datum.panel==='B' && datum.group!=='No Bone'"}],"mark":{"type":"line","interpolate":"step-after","strokeWidth":2},"encoding":{"color":{"field":"group","type":"nominal","scale":{"domain":["No Bone","Bone Only","Bone +"],"range":["#000000","#DA2B2B","#5FC23B"]},"legend":null},"strokeDash":{"field":"group","type":"nominal","scale":{"domain":["No Bone","Bone Only","Bone +"],"range":[[1,0],[7,5],[2,4]]},"legend":null},"order":{"value":null}}},
    {"data":{"name":"censor"},"transform":[{"filter":"datum.panel==='B'"}],"mark":{"type":"point","shape":"M-1,0L1,0M0,-1L0,1","size":169,"filled":false,"strokeWidth":1.8,"opacity":1},"encoding":{"color":{"field":"group","type":"nominal","scale":{"domain":["No Bone","Bone Only","Bone +"],"range":["#000000","#DA2B2B","#5FC23B"]},"legend":null}}}
   ]
  },
  {
   "data": {"name":"risk"},
   "transform": [{"filter":"datum.panel==='B'"}],
   "encoding": {
    "x": {"field":"t","type":"quantitative","scale":{"domain":[0,5],"nice":false,"zero":false},"axis":null},
    "y": {"field":"group","type":"nominal","scale":{"type":"point","domain":["No Bone","Bone Only","Bone +"],"range":[784,821],"padding":0},"axis":null}
   },
   "layer": [
    {"transform":[{"filter":"datum.t>0"}],"mark":{"type":"text","fontSize":15,"align":"center","baseline":"middle","color":"#111111"},"encoding":{"text":{"field":"n","type":"nominal"}}},
    {"transform":[{"filter":"datum.t===0"}],"mark":{"type":"text","fontSize":15,"align":"center","baseline":"middle","dx":4,"color":"#111111"},"encoding":{"text":{"field":"n","type":"nominal"}}},
    {"transform":[{"filter":"datum.t===0"}],"mark":{"type":"text","fontSize":15,"align":"center","baseline":"middle","dx":-65,"color":"#111111"},"encoding":{"text":{"field":"group","type":"nominal"}}}
   ]
  },
  {
   "data": {"name":"panels"},
   "transform": [{"filter":"datum.panel==='B'"}],
   "encoding": {
    "x": {"field":"panel","type":"nominal","scale":{"type":"band","domain":["B"],"range":[-98,-17],"paddingInner":0,"paddingOuter":0},"axis":null},
    "y": {"field":"panel","type":"nominal","scale":{"type":"band","domain":["B"],"range":[-100,-18],"paddingInner":0,"paddingOuter":0},"axis":null}
   },
   "layer": [
    {"mark":{"type":"rect","color":"#000000"}},
    {"mark":{"type":"text","color":"#ffffff","fontSize":50,"fontWeight":"bold","align":"center","baseline":"middle"},"encoding":{"text":{"field":"panel","type":"nominal"}}}
   ]
  }
 ]
}
]
}
